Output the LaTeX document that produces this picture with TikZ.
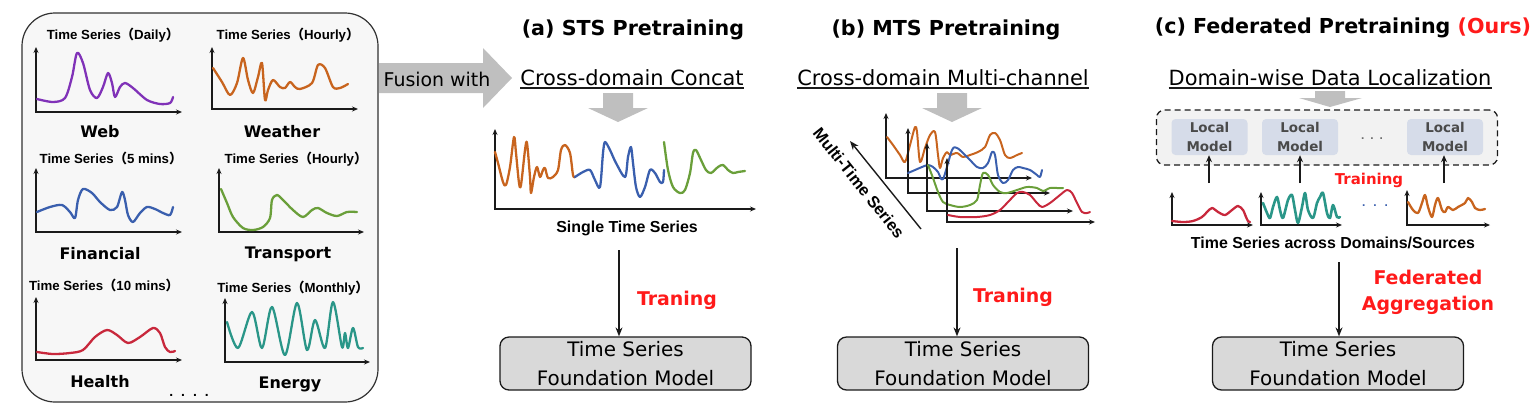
\documentclass[tikz,border=0pt]{standalone}
\usepackage{fontspec}
\setmainfont{Liberation Sans}
\newfontfamily\comic{DejaVu Sans}
\newfontfamily\cjk{Noto Sans CJK SC}
\usepackage{tikz}
\usetikzlibrary{arrows.meta,positioning,calc}
\definecolor{ink}       {HTML}{1A1A1A}
\definecolor{panelbg}   {HTML}{F7F7F7}
\definecolor{fusiongray}{HTML}{BFBFBF}
\definecolor{modelbg}   {HTML}{D9D9D9}
\definecolor{localbg}   {HTML}{D6DCE9}
\definecolor{localink}  {HTML}{4A4A4A}
\definecolor{webc}      {HTML}{8032B8}
\definecolor{weatherc}  {HTML}{C8641E}
\definecolor{finc}      {HTML}{3A5FAE}
\definecolor{transc}    {HTML}{6A9F3A}
\definecolor{healthc}   {HTML}{C8283C}
\definecolor{energyc}   {HTML}{2A9688}
\definecolor{hot}       {HTML}{FF1A1A}
\newcommand{\tslabel}[1]{Time Series{\cjk （}#1{\cjk ）}}
\tikzset{
  tsaxis/.style  ={draw=ink, line width=1.5pt,
                   {Stealth[length=6pt,width=5pt]}-{Stealth[length=6pt,width=5pt]}},
  tscurve/.style ={line width=2.3pt, line cap=round, line join=round},
  tstitle/.style ={font=\fontsize{13.3}{15}\selectfont\bfseries, inner sep=0pt, anchor=base},
  srclabel/.style={font=\comic\fontsize{16}{19}\selectfont\bfseries, inner sep=0pt, anchor=base},
  headtxt/.style ={font=\comic\fontsize{20.7}{24}\selectfont\bfseries, inner sep=0pt, anchor=base},
  modetxt/.style ={font=\comic\fontsize{21}{25}\selectfont, inner sep=0pt, anchor=base},
  captxt/.style  ={font=\fontsize{16}{19}\selectfont\bfseries, inner sep=0pt, anchor=base},
  redtxt/.style  ={font=\comic\fontsize{19}{26}\selectfont\bfseries, text=hot,
                   inner sep=0pt, align=center},
  fmbox/.style   ={draw=ink, fill=modelbg, line width=1.3pt, rounded corners=9bp,
                   minimum width=251bp, minimum height=53bp, align=center, inner sep=0pt,
                   font=\comic\fontsize{20}{29}\selectfont},
  localm/.style  ={fill=localbg, rounded corners=4bp, minimum width=76bp, minimum height=36bp,
                   align=center, inner sep=0pt, text=localink,
                   font=\comic\fontsize{13.5}{19}\selectfont\bfseries},
  arr/.style     ={-{Stealth[length=9pt,width=7pt]}, line width=1.4pt, draw=ink},
  bigarr/.style  ={fill=fusiongray},
  underl/.style  ={draw=ink, line width=1.2pt},
}
\begin{document}
\begin{tikzpicture}[x=1bp,y=-1bp]
\useasboundingbox (0,0) rectangle (1537,407);

% ---- data sources ----
\draw[ink!90, fill=panelbg, line width=1.2pt, rounded corners=33bp] (22,13) rectangle (378,402);

\node[tstitle] (dailyt) at (113,39) {\tslabel{Daily}};
\draw[tsaxis] (36,47) -- (36,112) -- (182,112);
\draw[tscurve, webc] plot[smooth] coordinates {(37,99) (53,102) (65,98) (72,77) (77,53) (83,63)
  (90,90) (97,98) (103,87) (108,73) (112,83) (115,97) (120,87) (125,83) (133,88) (147,100)
  (160,104) (170,103) (173,97)};
\node[srclabel] (webl) at (100,137) {Web};

\node[tstitle] (hourlyt) at (288,39) {\tslabel{Hourly}};
\draw[tsaxis] (212,47) -- (212,109) -- (358,109);
\draw[tscurve, weatherc] plot[smooth] coordinates {(213,68) (222,82) (230,95) (237,83) (243,58)
  (248,80) (253,93) (258,77) (262,63) (265,100) (268,90) (273,80) (280,87) (285,88) (290,82)
  (295,87) (300,89) (312,83) (318,65) (325,68) (333,87) (340,88) (348,84)};
\node[srclabel] (weatherl) at (282,137) {Weather};

\node[tstitle] (fivet) at (111,163) {\tslabel{5 mins}};
\draw[tsaxis] (36,168) -- (36,232) -- (182,232);
\draw[tscurve, finc] plot[smooth] coordinates {(37,212) (50,207) (62,205) (70,212) (75,218)
  (78,200) (83,189) (92,193) (100,202) (110,210) (117,207) (122,192) (125,200) (128,215)
  (133,222) (140,213) (147,207) (155,209) (163,213) (170,215) (173,207)};
\node[srclabel] (finl) at (100,259) {Financial};

\node[tstitle] (hourlyt2) at (296,163) {\tslabel{Hourly}};
\draw[tsaxis] (219,168) -- (219,232) -- (364,232);
\draw[tscurve, transc] plot[smooth] coordinates {(221,189) (227,203) (233,217) (243,228)
  (253,230) (263,227) (270,218) (272,200) (277,195) (283,200) (293,210) (303,217) (312,210)
  (318,208) (327,213) (337,216) (347,212) (357,212)};
\node[srclabel] (transl) at (288,258) {Transport};

\node[tstitle] (tent) at (104,290) {\tslabel{10 mins}};
\draw[tsaxis] (36,297) -- (36,360) -- (182,360);
\draw[tscurve, healthc] plot[smooth] coordinates {(37,352) (53,354) (70,353) (83,350) (95,337)
  (107,330) (117,335) (128,343) (140,337) (153,328) (160,333) (165,347) (170,352) (175,351)};
\node[srclabel] (healthl) at (100,387) {Health};

\node[tstitle] (monthlyt) at (293,292) {\tslabel{Monthly}};
\draw[tsaxis] (225,298) -- (225,362) -- (370,362);
\draw[tscurve, energyc] plot[smooth] coordinates {(227,322) (238,348) (252,312) (262,348)
  (272,307) (285,355) (297,303) (307,350) (315,320) (325,348) (333,302) (342,347) (345,333)
  (348,348) (353,328) (358,347) (363,348)};
\node[srclabel] (energyl) at (290,388) {Energy};

\node[srclabel, font=\bfseries\fontsize{14}{16}\selectfont] (moresrc) at (189,396)
  {.\hspace{8bp}.\hspace{8bp}.\hspace{8bp}.};

% ---- fusion arrow ----
\fill[bigarr] (379,63) -- (483,63) -- (483,48) -- (512,78) -- (483,108) -- (483,93)
  -- (379,93) -- cycle;
\node[font=\comic\fontsize{19}{22}\selectfont, inner sep=0pt, anchor=base] (fusion)
  at (437,86) {Fusion with};

% ---- (a) STS ----
\node[headtxt] (stst) at (633,35) {(a) STS Pretraining};
\node[modetxt] (concat) at (632,85) {Cross-domain Concat};
\draw[underl] ([yshift=-3bp]concat.base west) -- ([yshift=-3bp]concat.base east);
\fill[bigarr] (603,93) -- (633,93) -- (633,108) -- (648,108) -- (618,122) -- (588,108)
  -- (603,108) -- cycle;
\draw[tsaxis] (495,129) -- (495,209) -- (756,209);
\draw[tscurve, weatherc] plot[smooth] coordinates {(495,152) (498,163) (503,182) (506,185)
  (510,167) (514,137) (516,153) (519,183) (521,185) (525,150) (527,143) (530,177) (531,193)
  (534,177) (537,167) (540,177) (543,170) (545,168) (548,178) (553,177) (558,170) (561,150)
  (565,145) (570,153) (573,175) (575,177)};
\draw[tscurve, finc] plot[smooth] coordinates {(575,177) (583,172) (590,170) (595,180)
  (600,187) (603,153) (605,142) (610,150) (616,163) (625,177) (628,157) (631,147) (633,163)
  (636,187) (640,197) (645,187) (650,170) (655,173) (660,182) (663,182) (664,170)};
\draw[tscurve, transc] plot[smooth] coordinates {(664,142) (668,170) (673,187) (680,193)
  (685,190) (690,173) (693,153) (696,150) (701,160) (706,170) (711,173) (718,167) (723,165)
  (728,170) (733,173) (738,172) (745,171)};
\node[captxt] (single) at (627,232) {Single Time Series};
\node[fmbox] (fma) at (625.5,363.5) {Time Series\\Foundation Model};
\coordinate (froma) at (619,250);
\draw[arr] (froma) -- (froma |- fma.north);
\node[redtxt, anchor=base] (traina) at (677,305) {Traning};

% ---- (b) MTS ----
\node[headtxt] (mtst) at (946,35) {(b) MTS Pretraining};
\node[modetxt] (multich) at (943,85) {Cross-domain Multi-channel};
\draw[underl] ([yshift=-3bp]multich.base west) -- ([yshift=-3bp]multich.base east);
\fill[bigarr] (937,93) -- (967,93) -- (967,108) -- (982,108) -- (952,122) -- (922,108)
  -- (937,108) -- cycle;
\draw[tsaxis] (886,113) -- (886,178) -- (1032,178);
\draw[tscurve, weatherc, line width=2pt] plot[smooth] coordinates {(887,137) (893,145) (900,155)
  (905,162) (910,145) (915,127) (917,132) (920,162) (925,148) (930,135) (935,132) (938,155)
  (940,168) (943,158) (947,152) (950,155) (957,153) (963,157) (970,155) (978,152) (985,147)
  (990,135) (995,133) (1000,140) (1005,155) (1010,158) (1017,155) (1022,153)};
\draw[tsaxis] (908,128) -- (908,193) -- (1050,193);
\draw[tscurve, finc, line width=2pt] plot[smooth] coordinates {(908,173) (915,170) (922,167)
  (928,165) (933,167) (938,172) (943,179) (952,150) (957,148) (963,153) (970,160) (977,167)
  (983,168) (988,163) (992,152) (995,155) (998,175) (1003,183) (1008,180) (1013,170)
  (1018,167) (1023,168) (1030,170) (1037,175) (1040,177) (1042,170)};
\draw[tsaxis] (927,143) -- (927,211) -- (1073,211);
\draw[tscurve, transc, line width=2pt] plot[smooth] coordinates {(928,165) (933,178) (938,192)
  (943,202) (950,205) (960,207) (970,205) (977,200) (980,185) (983,173) (988,175) (993,185)
  (1000,192) (1007,193) (1017,190) (1027,187) (1037,188) (1043,191) (1050,188) (1057,188)
  (1063,188)};
\draw[tsaxis] (947,158) -- (947,222) -- (1095,222);
\draw[tscurve, healthc, line width=2pt] plot[smooth] coordinates {(948,215) (960,217) (977,217)
  (990,215) (1000,210) (1008,202) (1017,193) (1023,192) (1030,195) (1037,203) (1042,207)
  (1050,203) (1060,195) (1067,190) (1072,193) (1077,203) (1082,212) (1087,213) (1090,212)};
\coordinate (mtsfrom) at (921,229);
\coordinate (mtsto) at (850,141);
\draw[arr] (mtsfrom) -- (mtsto);
\node[font=\fontsize{16.5}{18}\selectfont\bfseries, rotate=-51.5, inner sep=0pt] (mtsl)
  at (859,183) {Multi-Time Series};
\node[fmbox] (fmb) at (963,363.5) {Time Series\\Foundation Model};
\coordinate (fromb) at (957,248);
\draw[arr] (fromb) -- (fromb |- fmb.north);
\node[redtxt, anchor=base] (trainb) at (1013,302) {Traning};

% ---- (c) federated ----
\node[headtxt] (fedt) at (1343,33) {(c) Federated Pretraining \textcolor{hot}{(Ours)}};
\node[modetxt] (localize) at (1330,85) {Domain-wise Data Localization};
\draw[underl] ([yshift=-3bp]localize.base west) -- ([yshift=-3bp]localize.base east);
\fill[bigarr] (1315,91) -- (1345,91) -- (1345,98) -- (1362,98) -- (1330,107) -- (1299,98)
  -- (1315,98) -- cycle;
\node[draw=ink, dash pattern=on 6pt off 4pt, line width=1.3pt, fill=gray!10,
      rounded corners=8bp, minimum width=341bp, minimum height=55bp, inner sep=0pt]
  (fedbox) at (1327,137.5) {};
\node[localm] (lm1) at (1209.5,137) {Local\\Model};
\node[localm] (lm2) at (1300,137) {Local\\Model};
\node[localm] (lm3) at (1445,137) {Local\\Model};
\node[text=localink!80, font=\bfseries\fontsize{12}{14}\selectfont, inner sep=0pt]
  (lmdots) at (1372,139) {.\hspace{6bp}.\hspace{6bp}.};
\foreach \i/\x in {1/1209, 2/1300, 3/1444} {
  \coordinate (src\i) at (\x,183);
  \draw[arr, -{Stealth[length=7pt,width=6pt]}] (src\i) -- (src\i |- lm\i.south);
}
\node[redtxt, anchor=base, font=\comic\fontsize{15}{18}\selectfont\bfseries] (trainc)
  at (1369,184) {Training};
\draw[tsaxis] (1172,192) -- (1172,225) -- (1253,225);
\draw[tscurve, healthc] plot[smooth] coordinates {(1172,221) (1183,222) (1193,221) (1202,217)
  (1207,212) (1212,208) (1218,212) (1225,215) (1232,210) (1238,206) (1243,210) (1246,217)
  (1248,221) (1250,222)};
\draw[tsaxis] (1261,192) -- (1261,225) -- (1342,225);
\draw[tscurve, energyc, line width=2.6pt] plot[smooth] coordinates {(1263,203) (1267,213)
  (1270,218) (1273,207) (1277,197) (1280,210) (1283,218) (1288,200) (1292,195) (1295,210)
  (1298,223) (1302,207) (1305,193) (1308,210) (1313,218) (1317,203) (1320,197) (1323,193)
  (1327,213) (1330,218) (1333,205) (1337,217) (1340,217)};
\node[text=finc, font=\bfseries\fontsize{12}{14}\selectfont, inner sep=0pt]
  (srcdots) at (1375,206) {.\hspace{8bp}.\hspace{8bp}.};
\draw[tsaxis] (1407,190) -- (1407,225) -- (1490,225);
\draw[tscurve, weatherc] plot[smooth] coordinates {(1408,202) (1413,210) (1418,213) (1422,203)
  (1425,195) (1428,207) (1432,217) (1435,205) (1438,198) (1442,210) (1445,212) (1448,207)
  (1453,210) (1458,207) (1465,203) (1468,198) (1472,202) (1475,208) (1480,210) (1485,209)};
\node[captxt] (acrossl) at (1333,248) {Time Series across Domains/Sources};
\node[fmbox] (fmc) at (1338,363.5) {Time Series\\Foundation Model};
\coordinate (fromc) at (1339,262);
\draw[arr] (fromc) -- (fromc |- fmc.north);
\node[redtxt] (aggl) at (1428,292) {Federated\\Aggregation};
\end{tikzpicture}
\end{document}
